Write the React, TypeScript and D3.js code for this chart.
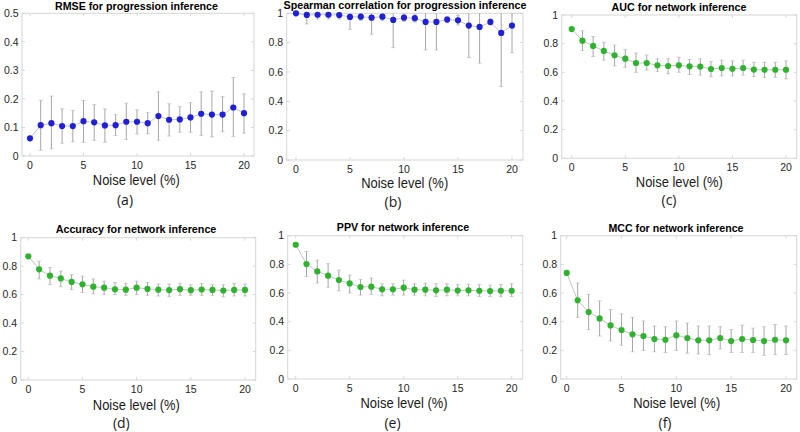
import React from "react";
import * as d3 from "d3";

// Noise levels (%) on the x axis
const noiseLevels = [0, 1, 2, 3, 4, 5, 6, 7, 8, 9, 10, 11, 12, 13, 14, 15, 16, 17, 18, 19, 20];
const noiseTicks = [0, 5, 10, 15, 20];
const rmseTicks = [0, 0.1, 0.2, 0.3, 0.4, 0.5];
const unitTicks = [0, 0.2, 0.4, 0.6, 0.8, 1];

// (a) RMSE for progression inference
const rmseMean = [0.062, 0.108, 0.115, 0.105, 0.105, 0.122, 0.118, 0.107, 0.108, 0.12, 0.12, 0.115, 0.14, 0.127, 0.128, 0.135, 0.148, 0.145, 0.145, 0.17, 0.15];
const rmseLow = [0.06, 0.02, 0.025, 0.045, 0.05, 0.048, 0.055, 0.048, 0.072, 0.058, 0.077, 0.078, 0.055, 0.07, 0.083, 0.083, 0.072, 0.067, 0.085, 0.068, 0.08];
const rmseHigh = [0.064, 0.195, 0.21, 0.165, 0.16, 0.195, 0.18, 0.165, 0.145, 0.185, 0.162, 0.152, 0.225, 0.183, 0.173, 0.187, 0.225, 0.227, 0.208, 0.275, 0.218];

// (b) Spearman correlation for progression inference
const spearmanMean = [1.0, 0.989, 0.99, 0.99, 0.988, 0.975, 0.977, 0.97, 0.977, 0.955, 0.97, 0.967, 0.941, 0.941, 0.957, 0.952, 0.916, 0.907, 0.941, 0.866, 0.916];
const spearmanLow = [1.0, 0.927, 0.96, 0.96, 0.96, 0.89, 0.95, 0.857, 0.95, 0.766, 0.945, 0.94, 0.75, 0.75, 0.935, 0.92, 0.698, 0.66, 0.92, 0.5, 0.732];
const spearmanHigh = [1.0, 1.05, 1.02, 1.02, 1.016, 1.06, 1.004, 1.083, 1.004, 1.144, 0.995, 0.994, 1.132, 1.132, 0.979, 0.984, 1.134, 1.154, 0.962, 1.232, 1.1];

// (c) AUC for network inference
const aucMean = [0.902, 0.821, 0.784, 0.749, 0.719, 0.695, 0.665, 0.665, 0.649, 0.644, 0.649, 0.642, 0.64, 0.623, 0.63, 0.625, 0.63, 0.619, 0.618, 0.618, 0.618];
const aucLow = [0.9, 0.751, 0.71, 0.685, 0.645, 0.635, 0.6, 0.615, 0.605, 0.59, 0.6, 0.585, 0.58, 0.57, 0.575, 0.575, 0.58, 0.57, 0.565, 0.565, 0.555];
const aucHigh = [0.904, 0.89, 0.85, 0.81, 0.79, 0.76, 0.735, 0.72, 0.695, 0.695, 0.705, 0.69, 0.695, 0.675, 0.685, 0.68, 0.685, 0.67, 0.67, 0.67, 0.68];

// (d) Accuracy for network inference
const accMean = [0.869, 0.778, 0.733, 0.714, 0.689, 0.672, 0.656, 0.649, 0.637, 0.635, 0.649, 0.64, 0.635, 0.632, 0.638, 0.631, 0.636, 0.633, 0.629, 0.633, 0.633];
const accLow = [0.867, 0.71, 0.67, 0.655, 0.635, 0.615, 0.605, 0.6, 0.6, 0.595, 0.6, 0.595, 0.59, 0.585, 0.595, 0.595, 0.595, 0.595, 0.585, 0.59, 0.59];
const accHigh = [0.871, 0.835, 0.79, 0.765, 0.74, 0.73, 0.71, 0.695, 0.685, 0.68, 0.695, 0.685, 0.675, 0.675, 0.68, 0.67, 0.68, 0.67, 0.67, 0.68, 0.675];

// (e) PPV for network inference
const ppvMean = [0.937, 0.802, 0.751, 0.721, 0.691, 0.667, 0.642, 0.644, 0.626, 0.626, 0.637, 0.623, 0.623, 0.619, 0.623, 0.617, 0.619, 0.616, 0.614, 0.616, 0.616];
const ppvLow = [0.935, 0.715, 0.67, 0.64, 0.615, 0.6, 0.585, 0.59, 0.58, 0.585, 0.585, 0.585, 0.58, 0.575, 0.58, 0.58, 0.58, 0.575, 0.575, 0.575, 0.575];
const ppvHigh = [0.939, 0.89, 0.83, 0.805, 0.76, 0.725, 0.695, 0.705, 0.665, 0.665, 0.69, 0.665, 0.67, 0.665, 0.665, 0.66, 0.66, 0.66, 0.655, 0.66, 0.665];

// (f) MCC for network inference
const mccMean = [0.74, 0.549, 0.467, 0.423, 0.374, 0.342, 0.312, 0.3, 0.279, 0.274, 0.305, 0.286, 0.27, 0.27, 0.286, 0.265, 0.279, 0.272, 0.265, 0.274, 0.27];
const mccLow = [0.738, 0.43, 0.345, 0.3, 0.265, 0.235, 0.19, 0.2, 0.19, 0.185, 0.2, 0.18, 0.175, 0.17, 0.21, 0.185, 0.185, 0.185, 0.165, 0.17, 0.17];
const mccHigh = [0.742, 0.67, 0.59, 0.545, 0.485, 0.455, 0.43, 0.405, 0.37, 0.365, 0.405, 0.39, 0.37, 0.37, 0.365, 0.345, 0.375, 0.355, 0.365, 0.38, 0.37];

const BLUE = "#2020d6";
const GREEN = "#2fb32f";
const BOX = "#d6d6d6";
const ERR = "#a6a6a6";
const LINK = "#c4c4c4";
const TICK_TEXT = "#262626";

type Panel = {
  tag: string;
  title: string;
  mean: number[];
  low: number[];
  high: number[];
  color: string;
  yTicks: number[];
  box: { l: number; r: number; t: number; b: number };
  x0: number;
  x20: number;
  titleX: number;
  titleY: number;
  titleW: number;
  labelX: number;
  labelY: number;
  tagX: number;
  tagY: number;
};

const panels: Panel[] = [
  {
    tag: "(a)", title: "RMSE for progression inference", mean: rmseMean, low: rmseLow, high: rmseHigh, color: BLUE, yTicks: rmseTicks,
    box: { l: 22, r: 254, t: 13.3, b: 156 }, x0: 30, x20: 244,
    titleX: 136.5, titleY: 9.5, titleW: 163, labelX: 136.3, labelY: 185, tagX: 125, tagY: 204.5,
  },
  {
    tag: "(b)", title: "Spearman correlation for progression inference", mean: spearmanMean, low: spearmanLow, high: spearmanHigh, color: BLUE, yTicks: unitTicks,
    box: { l: 286.7, r: 523, t: 13.3, b: 160 }, x0: 296, x20: 512,
    titleX: 405, titleY: 8.5, titleW: 243, labelX: 404.7, labelY: 188, tagX: 393, tagY: 206.5,
  },
  {
    tag: "(c)", title: "AUC for network inference", mean: aucMean, low: aucLow, high: aucHigh, color: GREEN, yTicks: unitTicks,
    box: { l: 561.7, r: 796.7, t: 15, b: 158.3 }, x0: 571.7, x20: 786,
    titleX: 679, titleY: 10.7, titleW: 135, labelX: 679.3, labelY: 186.7, tagX: 669, tagY: 205,
  },
  {
    tag: "(d)", title: "Accuracy for network inference", mean: accMean, low: accLow, high: accHigh, color: GREEN, yTicks: unitTicks,
    box: { l: 20.7, r: 255.7, t: 237.7, b: 380 }, x0: 28.3, x20: 245,
    titleX: 136, titleY: 232.7, titleW: 160.7, labelX: 136.3, labelY: 409.5, tagX: 121.3, tagY: 428,
  },
  {
    tag: "(e)", title: "PPV for network inference", mean: ppvMean, low: ppvLow, high: ppvHigh, color: GREEN, yTicks: unitTicks,
    box: { l: 287.7, r: 522.7, t: 235.7, b: 379 }, x0: 295.7, x20: 511.7,
    titleX: 403, titleY: 231.3, titleW: 132.3, labelX: 404, labelY: 408.3, tagX: 392.5, tagY: 428,
  },
  {
    tag: "(f)", title: "MCC for network inference", mean: mccMean, low: mccLow, high: mccHigh, color: GREEN, yTicks: unitTicks,
    box: { l: 560.7, r: 796.7, t: 235.7, b: 379 }, x0: 566.7, x20: 786,
    titleX: 676, titleY: 231.5, titleW: 135, labelX: 676.7, labelY: 408.3, tagX: 665, tagY: 428,
  },
];

function ErrorPanel({ p, idx }: { p: Panel; idx: number }) {
  const x = d3.scaleLinear().domain([0, 20]).range([p.x0, p.x20]);
  const yMax = p.yTicks[p.yTicks.length - 1];
  const y = d3.scaleLinear().domain([0, yMax]).range([p.box.b, p.box.t]);
  const line = d3
    .line<number>()
    .x((_, i) => x(noiseLevels[i]))
    .y((v) => y(v));
  const clipId = `clip-${idx}`;
  const { l, r, t, b } = p.box;
  const tickLen = 3;
  const font = "'Liberation Sans', Arial, sans-serif";

  return (
    <g>
      <defs>
        <clipPath id={clipId}>
          <rect x={l} y={t} width={r - l} height={b - t} />
        </clipPath>
      </defs>
      {/* axes box */}
      <rect x={l} y={t} width={r - l} height={b - t} fill="white" stroke={BOX} strokeWidth={1} />
      {/* inward ticks on all four sides */}
      {noiseTicks.map((v) => (
        <g key={`xt${v}`} stroke={BOX}>
          <line x1={x(v)} x2={x(v)} y1={b} y2={b - tickLen} />
          <line x1={x(v)} x2={x(v)} y1={t} y2={t + tickLen} />
        </g>
      ))}
      {p.yTicks.map((v) => (
        <g key={`yt${v}`} stroke={BOX}>
          <line x1={l} x2={l + tickLen} y1={y(v)} y2={y(v)} />
          <line x1={r} x2={r - tickLen} y1={y(v)} y2={y(v)} />
        </g>
      ))}
      {/* tick labels */}
      {noiseTicks.map((v) => (
        <text key={`xl${v}`} x={x(v)} y={b + 13} textAnchor="middle" fontSize={10.5} fill={TICK_TEXT} fontFamily={font}>
          {String(v)}
        </text>
      ))}
      {p.yTicks.map((v) => (
        <text key={`yl${v}`} x={l - 3.5} y={y(v) + 3.7} textAnchor="end" fontSize={10.5} fill={TICK_TEXT} fontFamily={font}>
          {String(v)}
        </text>
      ))}
      {/* connecting line and error bars, clipped to the axes */}
      <g clipPath={`url(#${clipId})`}>
        <path d={line(p.mean) ?? ""} fill="none" stroke={LINK} strokeWidth={1} />
        {noiseLevels.map((n, i) => (
          <g key={`e${n}`} stroke={ERR} strokeWidth={1}>
            <line x1={x(n)} x2={x(n)} y1={y(p.low[i])} y2={y(p.high[i])} />
            <line x1={x(n) - 2} x2={x(n) + 2} y1={y(p.low[i])} y2={y(p.low[i])} strokeOpacity={0.5} />
            <line x1={x(n) - 2} x2={x(n) + 2} y1={y(p.high[i])} y2={y(p.high[i])} strokeOpacity={0.5} />
          </g>
        ))}
      </g>
      {/* mean markers */}
      {noiseLevels.map((n, i) => (
        <circle key={`m${n}`} cx={x(n)} cy={y(p.mean[i])} r={3.1} fill={p.color} />
      ))}
      {/* title */}
      <text x={p.titleX} y={p.titleY} textAnchor="middle" fontSize={10.7} fontWeight="bold" fill="#000"
        fontFamily={font} textLength={p.titleW} lengthAdjust="spacingAndGlyphs">
        {p.title}
      </text>
      {/* x axis label */}
      <text x={p.labelX} y={p.labelY} textAnchor="middle" fontSize={14} fill="#1a1a1a"
        fontFamily={font} textLength={87} lengthAdjust="spacingAndGlyphs">
        Noise level (%)
      </text>
      {/* panel tag */}
      <text x={p.tagX} y={p.tagY} textAnchor="middle" fontSize={14} fill="#1a1a1a" fontFamily="'Open Sans', sans-serif">
        {p.tag}
      </text>
    </g>
  );
}

export default function App() {
  return (
    <svg width={800} height={432} viewBox="0 0 800 432"
      style={{ position: "absolute", left: 0, top: 0, background: "white" }}>
      <rect x={0} y={0} width={800} height={432} fill="white" />
      {panels.map((p, i) => (
        <ErrorPanel key={p.tag} p={p} idx={i} />
      ))}
    </svg>
  );
}
